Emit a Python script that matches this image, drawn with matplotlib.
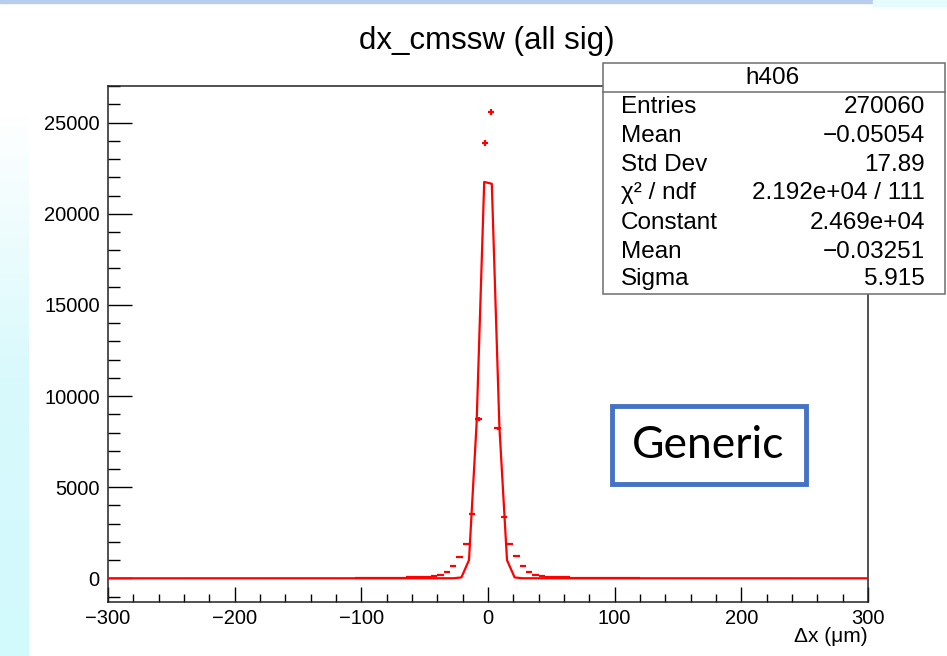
import matplotlib
matplotlib.use("Agg")
import matplotlib.pyplot as plt
from matplotlib.patches import Rectangle
from matplotlib.ticker import MultipleLocator
import numpy as np

plt.rcParams['font.family'] = ['Liberation Sans', 'DejaVu Sans']

W, H = 947, 656

# histogram bins (bin width 5 um), counts
bin_centers = [-102.5, -97.5, -92.5, -87.5, -82.5, -77.5, -72.5, -67.5, -62.5, -57.5,
               -52.5, -47.5, -42.5, -37.5, -32.5, -27.5, -22.5, -17.5, -12.5, -7.5,
               -2.5, 2.5, 7.5, 12.5, 17.5, 22.5, 27.5, 32.5, 37.5, 42.5,
               47.5, 52.5, 57.5, 62.5, 67.5, 72.5, 77.5, 82.5, 87.5, 92.5,
               97.5, 102.5, 107.5, 112.5, 117.5]
counts = [14, 16, 19, 22, 26, 30, 36, 42, 50, 60,
          75, 95, 130, 200, 330, 680, 1190, 1905, 3520, 8740,
          23900, 25600, 8230, 3380, 1900, 1200, 680, 330, 200, 130,
          95, 75, 60, 50, 42, 36, 30, 26, 22, 19,
          16, 14, 12, 10, 9]

# gaussian fit curve as drawn (polyline vertices)
fit_x = [-300, -27, -21, -15, -9, -3, 3, 9, 15, 21, 27, 300]
fit_y = [0, 2, 50, 1000, 8500, 21750, 21650, 8300, 1000, 50, 2, 0]

stat_labels = ["Entries", "Mean", "Std Dev", "\u03c7\u00b2 / ndf", "Constant", "Mean", "Sigma"]
stat_values = ["270060", "\u22120.05054", "17.89", "2.192e+04 / 111", "2.469e+04",
               "\u22120.03251", "5.915"]


def px(x, y):
    return x / W, 1 - y / H


fig = plt.figure(figsize=(W / 100, H / 100), dpi=100)

# slide decoration behind the canvas
fig.patches.append(Rectangle(px(0, 3), 873 / W, 3 / H, transform=fig.transFigure,
                             color="#b7cdee", zorder=0))
fig.patches.append(Rectangle(px(873, 6), 74 / W, 6 / H, transform=fig.transFigure,
                             color="#e6fbfe", zorder=0))
grad = np.linspace(0, 1, 100).reshape(-1, 1)
bg_ax = fig.add_axes([0, 0, 28 / W, 1 - 110 / H], zorder=-1)
bg_ax.imshow(grad, aspect="auto", cmap=matplotlib.colors.LinearSegmentedColormap.from_list(
    "c", ["#d2fafd", "#d8f9fc", "#ffffff"]), extent=[0, 1, 0, 1], origin="lower")
bg_ax.axis("off")

ax = fig.add_axes([108 / W, 1 - 601.7 / H, (868 - 108) / W, (601.7 - 86) / H])

ax.plot(fit_x, fit_y, color="red", lw=1.6, zorder=3)
ax.errorbar(bin_centers, counts, xerr=2.5, yerr=np.sqrt(counts), fmt="none",
            ecolor="red", elinewidth=1.6, capsize=0, zorder=4)

ax.set_xlim(-300, 300)
ax.set_ylim(-1284, 27014)
ax.xaxis.set_major_locator(MultipleLocator(100))
ax.xaxis.set_minor_locator(MultipleLocator(20))
ax.yaxis.set_major_locator(MultipleLocator(5000))
ax.yaxis.set_minor_locator(MultipleLocator(1000))
ax.tick_params(axis="x", which="major", direction="in", length=11, width=1, labelsize=14.5, pad=5)
ax.tick_params(axis="x", which="minor", direction="in", length=5.5, width=1)
ax.tick_params(axis="y", which="major", direction="in", length=17, width=1, labelsize=14.5, pad=6)
ax.tick_params(axis="y", which="minor", direction="in", length=8.5, width=1)
for s in ax.spines.values():
    s.set_linewidth(1.1)
    s.set_color("#222222")

fig.text(*px(487, 41), "dx_cmssw (all sig)", ha="center", va="center", fontsize=22.5)
fig.text(*px(868, 636), "\u0394x (\u03bcm)", ha="right", va="center", fontsize=15)

# stats box
fig.patches.append(Rectangle(px(602.7, 294), (945 - 602.7) / W, (294 - 62.7) / H,
                             transform=fig.transFigure, facecolor="white",
                             edgecolor="#6e6e6e", lw=1.1, zorder=5))
fig.add_artist(plt.Line2D([602.7 / W, 945 / W], [1 - 91.7 / H] * 2, color="#6e6e6e",
                          lw=1.1, zorder=6))
fig.text(*px(772, 78), "h406", ha="center", va="center", fontsize=17.5, zorder=7)
row_y = [106.7, 136, 165, 193, 223, 251.7, 279]
for lab, val, y in zip(stat_labels, stat_values, row_y):
    fig.text(*px(620.7, y), lab, ha="left", va="center", fontsize=17.5, zorder=7)
    fig.text(*px(925, y), val, ha="right", va="center", fontsize=17.5, zorder=7)

# "Generic" label box
fig.patches.append(Rectangle(px(611.5, 484), (806 - 611.5) / W, (484 - 406) / H,
                             transform=fig.transFigure, facecolor="white",
                             edgecolor="#4472c4", lw=3.5, zorder=5))
fig.text(*px(708, 446), "Generic", ha="center", va="center", fontsize=32,
         family="Lato", zorder=7)

fig.savefig("out.png", dpi=100)
